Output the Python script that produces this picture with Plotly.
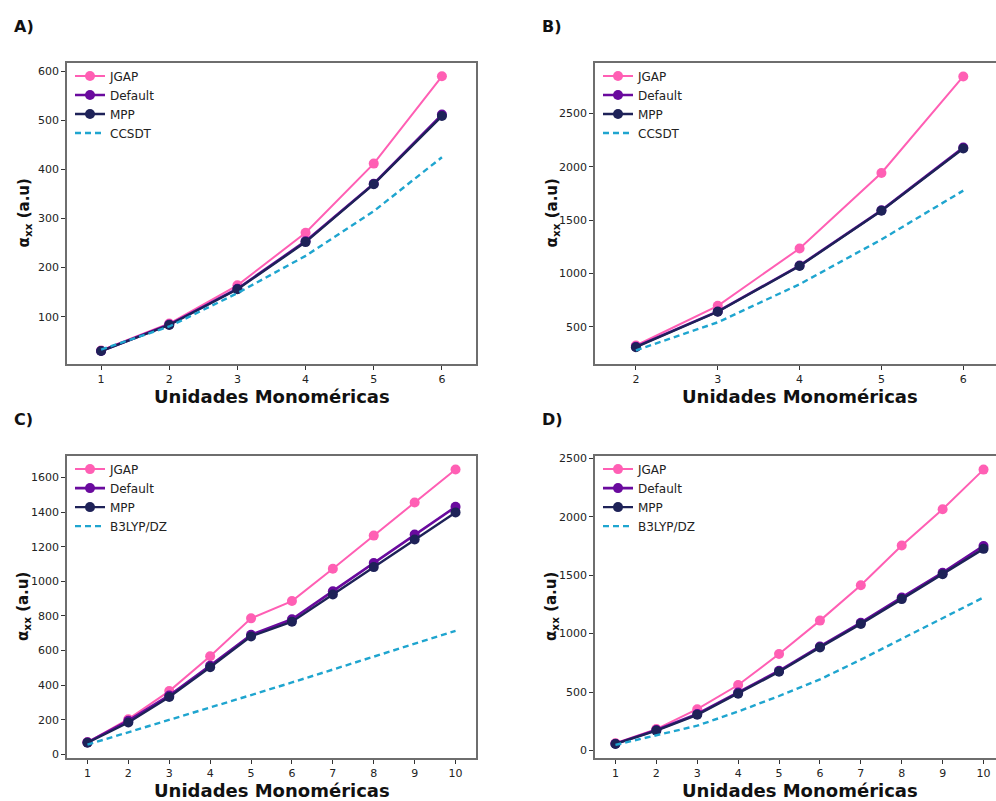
import plotly.graph_objects as go

W, H = 996, 801

# ---------------- data ----------------
A_x = [1, 2, 3, 4, 5, 6]
A_jgap = [31, 86, 164, 271, 412, 590]
A_default = [30, 84, 157, 254, 371, 512]
A_mpp = [30, 83, 156, 252, 370, 509]
A_ref = [33, 80, 148, 224, 315, 425]

B_x = [2, 3, 4, 5, 6]
B_jgap = [326, 698, 1235, 1942, 2847]
B_default = [315, 645, 1075, 1592, 2180]
B_mpp = [310, 642, 1070, 1588, 2171]
B_ref = [280, 543, 900, 1319, 1777]

C_x = [1, 2, 3, 4, 5, 6, 7, 8, 9, 10]
C_jgap = [70, 204, 366, 567, 786, 886, 1073, 1264, 1455, 1646]
C_default = [70, 195, 341, 513, 691, 781, 943, 1105, 1270, 1430]
C_mpp = [68, 185, 332, 504, 682, 767, 924, 1082, 1241, 1398]
C_ref = [57, 128, 198, 270, 343, 416, 490, 565, 640, 714]

D_x = [1, 2, 3, 4, 5, 6, 7, 8, 9, 10]
D_jgap = [62, 183, 353, 560, 825, 1111, 1414, 1753, 2064, 2403]
D_default = [58, 175, 312, 495, 682, 890, 1093, 1309, 1521, 1750]
D_mpp = [56, 170, 305, 486, 673, 882, 1083, 1295, 1507, 1725]
D_ref = [48, 127, 212, 333, 466, 608, 777, 955, 1131, 1309]

SERIES_NAMES = ["JGAP", "Default", "MPP"]
REF_NAMES = ["CCSDT", "CCSDT", "B3LYP/DZ", "B3LYP/DZ"]
PANEL_LABELS = ["A)", "B)", "C)", "D)"]
X_TITLE = "Unidades Monoméricas"
Y_TITLE = "α<sub>xx</sub> (a.u)"

# ---------------- styles ----------------
COLORS = {"JGAP": "#ff5fb4", "Default": "#6a0a9e", "MPP": "#1e2258"}
REF_COLOR = "#1fa5cf"
WIDTHS = {"JGAP": 2, "Default": 2.6, "MPP": 2.4}
FONT = "DejaVu Sans"
AXIS_COLOR = "#6e6e6e"

def px_x(p):
    return p / W

def px_y(p):
    return 1 - p / H

panels = [
    dict(x=A_x, s=[A_jgap, A_default, A_mpp], ref=A_ref,
         dom_x=(67, 476), dom_y=(60, 364), xr=[0.5, 6.5], yr=[3, 618],
         ytick=[100, 200, 300, 400, 500, 600], right=True),
    dict(x=B_x, s=[B_jgap, B_default, B_mpp], ref=B_ref,
         dom_x=(595, 996), dom_y=(60, 364), xr=[1.5, 6.4], yr=[150, 2977],
         ytick=[500, 1000, 1500, 2000, 2500], right=False),
    dict(x=C_x, s=[C_jgap, C_default, C_mpp], ref=C_ref,
         dom_x=(67, 476), dom_y=(456, 761), xr=[0.5, 10.5], yr=[-22, 1726],
         ytick=[0, 200, 400, 600, 800, 1000, 1200, 1400, 1600], right=True),
    dict(x=D_x, s=[D_jgap, D_default, D_mpp], ref=D_ref,
         dom_x=(595, 996), dom_y=(456, 761), xr=[0.5, 10.305], yr=[-67, 2523],
         ytick=[0, 500, 1000, 1500, 2000, 2500], right=False),
]

fig = go.Figure()
layout = dict(width=W, height=H, margin=dict(l=0, r=0, t=0, b=0),
              paper_bgcolor="white", plot_bgcolor="white",
              font=dict(family=FONT, color="#222222", size=11))
annotations = []

for i, p in enumerate(panels):
    n = "" if i == 0 else str(i + 1)
    xa, ya = "x" + n, "y" + n
    leg = "legend" + n
    for name, vals in zip(SERIES_NAMES, p["s"]):
        fig.add_trace(go.Scatter(
            x=p["x"], y=vals, name=name, mode="lines+markers",
            line=dict(color=COLORS[name], width=WIDTHS[name]),
            marker=dict(color=COLORS[name], size=10),
            xaxis=xa, yaxis=ya, legend=leg, cliponaxis=False))
    fig.add_trace(go.Scatter(
        x=p["x"], y=p["ref"], name=REF_NAMES[i], mode="lines",
        line=dict(color=REF_COLOR, width=2.4, dash="6px,4px"),
        xaxis=xa, yaxis=ya, legend=leg))

    x0, x1 = p["dom_x"]
    y0, y1 = p["dom_y"]
    layout["xaxis" + n] = dict(
        domain=[px_x(x0), px_x(x1)], range=p["xr"], anchor=ya,
        tickmode="array", tickvals=p["x"], ticks="outside", ticklen=4,
        tickcolor="#333333", showgrid=False, zeroline=False,
        showline=True, linecolor=AXIS_COLOR, linewidth=1.5, mirror=True,
        tickfont=dict(size=11, family=FONT, color="#222222"))
    layout["yaxis" + n] = dict(
        domain=[px_y(y1), px_y(y0)], range=p["yr"], anchor=xa,
        tickmode="array", tickvals=p["ytick"], ticks="outside", ticklen=4,
        tickcolor="#333333", showgrid=False, zeroline=False,
        showline=True, linecolor=AXIS_COLOR, linewidth=1.5,
        mirror=p["right"],
        tickfont=dict(size=11, family=FONT, color="#222222"))
    layout[leg] = dict(
        x=px_x(x0 + 3), y=px_y(y0 - 1), xanchor="left", yanchor="top",
        bgcolor="rgba(255,255,255,0)", borderwidth=0,
        font=dict(size=12, family=FONT, color="#222222"),
        tracegroupgap=0, itemwidth=30)

    # axis titles
    cx = (x0 + (x0 + 409)) / 2
    annotations.append(dict(
        text="<b>" + X_TITLE + "</b>", x=px_x(cx), y=px_y(y1 + 32),
        xref="paper", yref="paper", xanchor="center", yanchor="middle",
        showarrow=False, font=dict(size=18, family=FONT, color="#111111")))
    annotations.append(dict(
        text="<b>" + Y_TITLE + "</b>", x=px_x(x0 - 43), y=px_y((y0 + y1) / 2),
        xref="paper", yref="paper", xanchor="center", yanchor="middle",
        textangle=-90, showarrow=False,
        font=dict(size=15, family=FONT, color="#111111")))
    # panel label
    annotations.append(dict(
        text="<b>" + PANEL_LABELS[i] + "</b>", x=px_x(x0 - 55), y=px_y(y0 - 36),
        xref="paper", yref="paper", xanchor="left", yanchor="middle",
        showarrow=False, font=dict(size=16, family=FONT, color="#111111")))

layout["annotations"] = annotations
fig.update_layout(**layout)
fig.write_html("out.html")
